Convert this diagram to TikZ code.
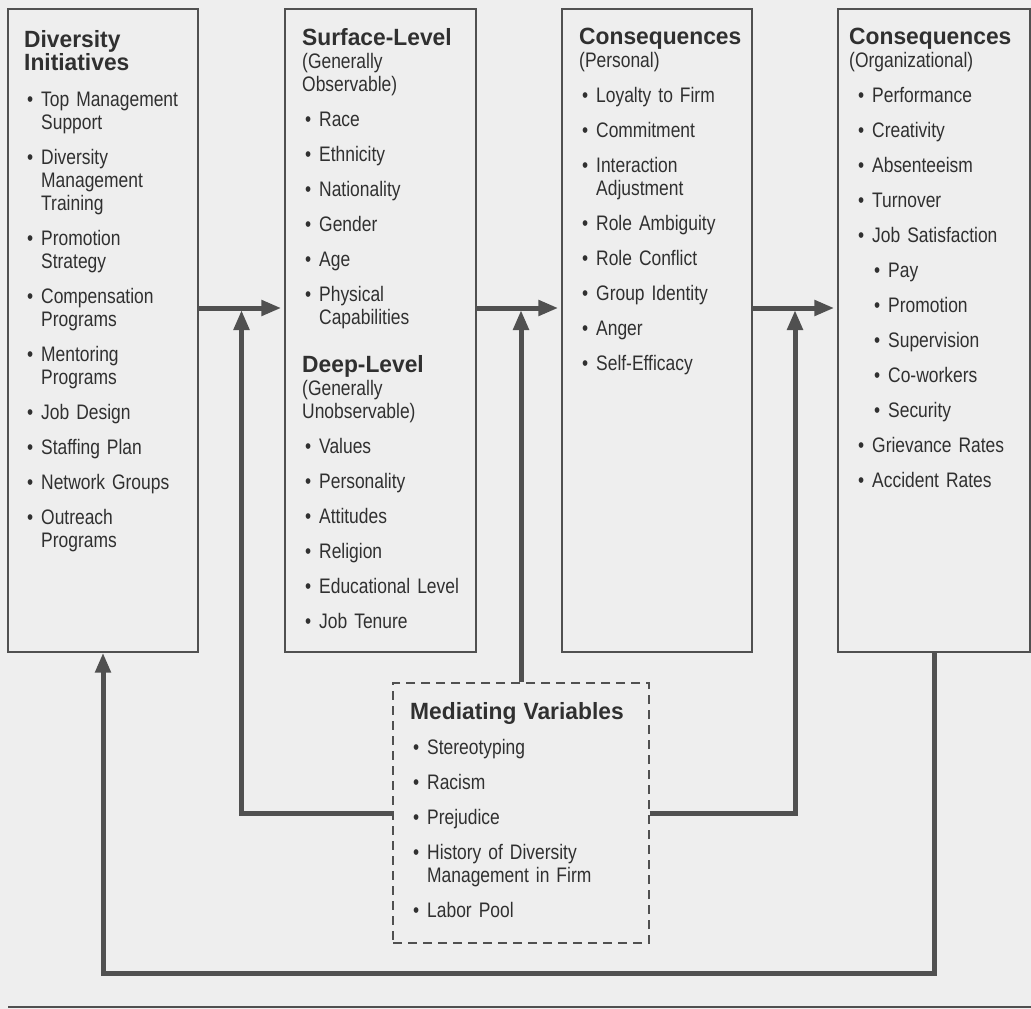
\documentclass[tikz,border=0pt]{standalone}
\usepackage{fontspec}
\setmainfont{Liberation Sans}[FakeStretch=0.83,BoldFeatures={FakeStretch=0.97}]
\usepackage{xcolor}
\usetikzlibrary{arrows.meta,calc,positioning}
\definecolor{paper}{RGB}{238,238,238}
\definecolor{ink}{RGB}{48,48,48}
\definecolor{rule}{RGB}{80,80,80}
\newcommand{\bl}[1][0pt]{\hspace*{#1}\makebox[17pt][l]{\hspace{3pt}\textbullet}}
\newcommand{\cl}[1][0pt]{\hspace*{\dimexpr#1+17pt\relax}}
\newcommand{\hd}[1]{{\fontsize{23.5}{23}\selectfont\bfseries #1}}
\newcommand{\gap}{\\[12pt]}

\begin{document}
\begin{tikzpicture}[x=1pt,y=-1pt,
  box/.style={draw=rule,line width=1.4pt,inner sep=0pt,minimum width=190pt,minimum height=643pt},
  txt/.style={anchor=north west,inner sep=0pt,text width=#1,align=left,text=ink,font=\fontsize{21}{23}\selectfont},
  txt/.default=175pt,
  flow/.style={draw=rule,line width=5pt,-{Triangle[length=20pt,width=15pt]}}]
\useasboundingbox (0,0) rectangle (1031,1009);
\fill[paper] (0,0) rectangle (1031,1009);

% the four columns
\node[box] (div) at (103,330.5) {};
\node[box,minimum width=191pt] (surf) at (380.5,330.5) {};
\node[box] (pers) at (657,330.5) {};
\node[box,minimum width=192pt] (org) at (934,330.5) {};
\node[box,dash pattern=on 9pt off 6pt,minimum width=256pt,minimum height=260pt] (med) at (521,813) {};

\node[txt] (divtxt) at (24,30) {\hd{Diversity\\Initiatives}\\[13pt]
  \bl Top Management\\ \cl Support\gap
  \bl Diversity\\ \cl Management\\ \cl Training\gap
  \bl Promotion\\ \cl Strategy\gap
  \bl Compensation\\ \cl Programs\gap
  \bl Mentoring\\ \cl Programs\gap
  \bl Job Design\gap
  \bl Staffing Plan\gap
  \bl Network Groups\gap
  \bl Outreach\\ \cl Programs};

\node[txt] (surftxt) at (302,28) {\hd{Surface-Level}\\ (Generally\\ Observable)\gap
  \bl Race\gap
  \bl Ethnicity\gap
  \bl Nationality\gap
  \bl Gender\gap
  \bl Age\gap
  \bl Physical\\ \cl Capabilities\\[25pt]
  \hd{Deep-Level}\\ (Generally\\ Unobservable)\gap
  \bl Values\gap
  \bl Personality\gap
  \bl Attitudes\gap
  \bl Religion\gap
  \bl Educational Level\gap
  \bl Job Tenure};

\node[txt] (perstxt) at (579,28) {\hd{Consequences}\\ (Personal)\gap
  \bl Loyalty to Firm\gap
  \bl Commitment\gap
  \bl Interaction\\ \cl Adjustment\gap
  \bl Role Ambiguity\gap
  \bl Role Conflict\gap
  \bl Group Identity\gap
  \bl Anger\gap
  \bl Self-Efficacy};

\node[txt] (orgtxt) at (849,28) {\hd{Consequences}\\ (Organizational)\gap
  \bl[6pt]Performance\gap
  \bl[6pt]Creativity\gap
  \bl[6pt]Absenteeism\gap
  \bl[6pt]Turnover\gap
  \bl[6pt]Job Satisfaction\gap
  \bl[22pt]Pay\gap
  \bl[22pt]Promotion\gap
  \bl[22pt]Supervision\gap
  \bl[22pt]Co-workers\gap
  \bl[22pt]Security\gap
  \bl[6pt]Grievance Rates\gap
  \bl[6pt]Accident Rates};

\node[txt=230pt] (medtxt) at (410,702) {\hd{Mediating Variables}\gap
  \bl Stereotyping\gap
  \bl Racism\gap
  \bl Prejudice\gap
  \bl History of Diversity\\ \cl Management in Firm\gap
  \bl Labor Pool};

% connectors
\coordinate (lvl) at (0,308);
\coordinate (back) at (0,973);
\coordinate (m1) at ($(div.east)!0.5!(surf.west)$);
\coordinate (m3) at ($(pers.east)!0.5!(org.west)$);
\draw[flow,shorten >=3pt] (div.east |- lvl) -- (surf.west |- lvl);
\draw[flow,shorten >=3pt] (surf.east |- lvl) -- (pers.west |- lvl);
\draw[flow,shorten >=3pt] (pers.east |- lvl) -- (org.west |- lvl);
\draw[flow,shorten >=2pt] (med.west) -| (m1 |- lvl);
\draw[flow,shorten >=2pt] (med.north) -- (med.north |- lvl);
\draw[flow,shorten >=2pt] (med.east) -| (m3 |- lvl);
\draw[flow] (org.south) -- (org.south |- back) -| (div.south);

\draw[rule,line width=2pt] (8,1007) -- (1031,1007);
\end{tikzpicture}
\end{document}
